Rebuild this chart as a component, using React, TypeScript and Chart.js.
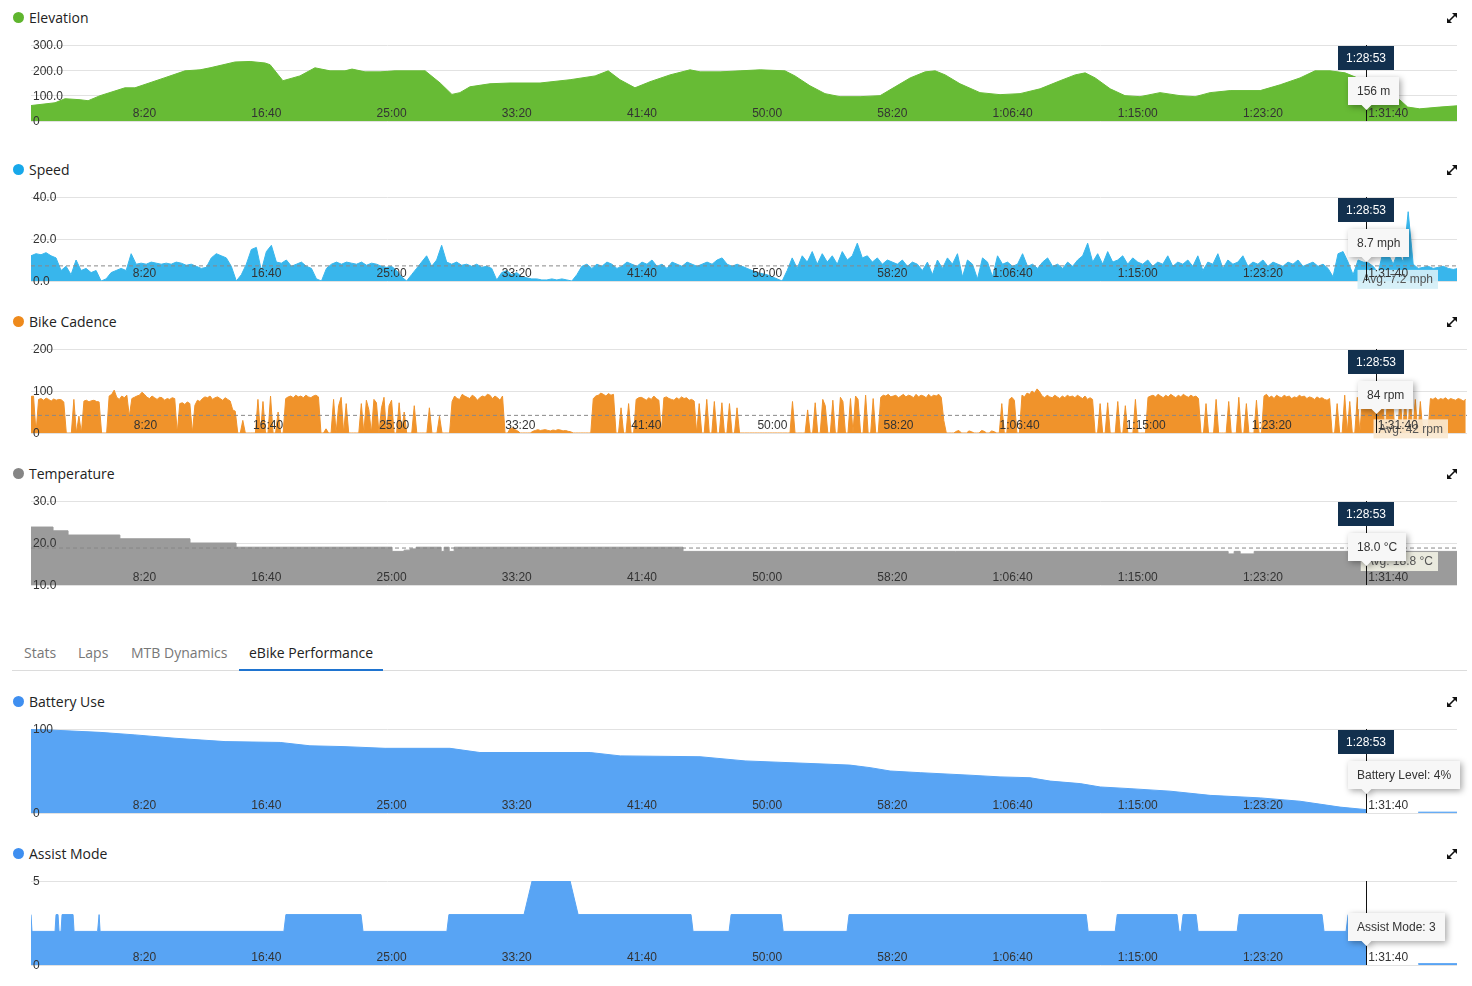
import React, { useEffect, useRef } from "react";
import { Chart, registerables } from "chart.js";

Chart.register(...registerables);

const TICK_FONT = '"Liberation Sans", Arial, Helvetica, sans-serif';
const UI_FONT = '"Open Sans", "Noto Sans", sans-serif';

// ---------- shared x axis (seconds) ----------
const T_MAX = 5695;
const CURSOR_T = 5333;
const CURSOR_LABEL = "1:28:53";
const X_TICKS = [500, 1000, 1500, 2000, 2500, 3000, 3500, 4000, 4500, 5000, 5500];
const X_TICK_LABELS = ["8:20", "16:40", "25:00", "33:20", "41:40", "50:00", "58:20", "1:06:40", "1:15:00", "1:23:20", "1:31:40"];

// ---------- Elevation (t seconds, metres) ----------
const elevationPoints: [number, number][] = [
  [0, 61], [96, 72], [136, 88], [196, 84], [228, 80], [276, 100], [375, 131], [415, 131], [535, 171], [615, 198],
  [675, 202], [715, 210], [763, 221], [815, 233], [875, 235], [935, 229], [955, 222], [1006, 159], [1074, 178], [1134, 210],
  [1154, 206], [1194, 198], [1254, 198], [1282, 205], [1334, 194], [1394, 194], [1454, 198], [1574, 198], [1634, 150], [1681, 105],
  [1713, 112], [1753, 135], [1833, 147], [1913, 150], [2033, 150], [2153, 163], [2253, 178], [2305, 198], [2352, 163], [2412, 131],
  [2472, 155], [2552, 182], [2632, 202], [2672, 194], [2752, 194], [2832, 198], [2912, 202], [3011, 198], [3051, 178], [3111, 139],
  [3171, 108], [3231, 96], [3311, 96], [3391, 100], [3451, 135], [3511, 170], [3571, 194], [3611, 198], [3651, 182], [3710, 147],
  [3790, 112], [3870, 104], [3950, 108], [4030, 127], [4110, 159], [4170, 182], [4210, 190], [4250, 170], [4310, 127], [4369, 100],
  [4429, 96], [4509, 112], [4589, 100], [4649, 96], [4709, 112], [4789, 120], [4909, 120], [4989, 143], [5068, 170], [5128, 198],
  [5188, 198], [5248, 190], [5333, 156], [5406, 120], [5466, 84], [5498, 55], [5546, 48], [5626, 55], [5695, 60],
];
const ELEV_Y_TICKS = [0, 100, 200, 300];
const ELEV_Y_LABELS = ["0", "100.0", "200.0", "300.0"];

// ---------- Speed (mph, one value every 20 s) ----------
const SPEED_STEP = 20;
const speedValues = [
  12, 13, 12.5, 13.5, 12, 11, 5, 7, 3, 10,
  5, 6, 4, 5, 0, 1, 4, 5, 6, 5,
  13, 8, 8.5, 8, 9, 8.5, 8, 8.5, 8, 9,
  8.5, 7.5, 8, 7, 6, 6.5, 11, 13, 12, 11,
  7, 0, 3, 8, 15, 16, 5, 14, 17, 9,
  8.5, 10, 7, 8, 9, 7, 6, 1, 0, 6,
  8, 9, 8, 9, 8.5, 8, 9, 7.5, 8.5, 8,
  7, 6.5, 7, 5, 2, 0, 3, 6, 9, 12,
  7, 10, 17, 9, 8, 9, 7.5, 8, 7, 8,
  6.5, 7, 6, 0.5, 4, 5, 3, 4, 2, 1.5,
  1, 1, 0.5, 0.5, 1, 0.5, 1, 0.5, 0, 3,
  7, 8, 6, 8, 7, 9, 8, 6, 7, 9,
  8, 7, 9, 8, 10, 7, 8, 6, 9, 8,
  7, 9, 8, 7, 8, 9, 8, 10, 11, 8,
  7, 8, 7, 6, 5, 4, 3.5, 3, 2, 1,
  0, 5, 11, 6, 12, 9, 14, 8, 13, 9,
  12, 8, 14, 10, 12, 18, 11, 12, 9, 11,
  8, 10, 9, 8, 10, 7, 9, 8, 5, 9,
  3, 10, 6, 11, 8, 13, 2, 10, 8, 1,
  11, 9, 2, 12, 8, 9, 7, 8, 13, 7,
  8, 6, 9, 11, 7, 8, 6, 9, 7, 10,
  12, 18, 9, 13, 8, 14, 9, 10, 12, 8,
  11, 9, 8, 10, 7, 9, 8, 12, 7, 9,
  8, 10, 7, 12, 5, 9, 8, 13, 6, 10,
  8, 9, 12, 7, 9, 8, 10, 7, 9, 8,
  7, 9, 8, 10, 7, 8, 9, 7, 8, 6,
  2, 13, 14, 9, 3, 10, 9, 8.7, 7, 4,
  14, 13, 8, 14, 9, 33, 8, 6, 6.5, 7,
  6, 6.5, 7, 6, 5.5, 6,
];
const SPEED_AVG = 7.2;
const SPEED_Y_TICKS = [0, 20, 40];
const SPEED_Y_LABELS = ["0.0", "20.0", "40.0"];

// ---------- Bike cadence (rpm, one value every 10 s) ----------
const CADENCE_STEP = 10;
const cadenceValues = [
  87, 88, 0, 80, 82, 78, 83, 80, 76, 81,
  78, 80, 79, 74, 0, 0, 0, 80, 0, 40,
  0, 76, 78, 74, 77, 78, 75, 74, 0, 0,
  0, 88, 92, 102, 85, 80, 88, 84, 90, 40,
  82, 85, 88, 90, 97, 92, 85, 82, 88, 84,
  80, 85, 84, 78, 82, 80, 84, 82, 0, 70,
  72, 68, 74, 70, 0, 66, 78, 75, 82, 86,
  84, 88, 80, 84, 86, 82, 78, 84, 80, 76,
  55, 52, 0, 0, 30, 0, 0, 0, 0, 0,
  80, 0, 75, 0, 0, 88, 0, 0, 50, 0,
  0, 82, 86, 88, 84, 90, 86, 88, 84, 90,
  86, 84, 88, 90, 86, 0, 0, 10, 0, 0,
  80, 0, 65, 85, 0, 70, 0, 0, 0, 0,
  0, 70, 0, 78, 55, 0, 80, 72, 0, 60,
  85, 0, 65, 78, 0, 0, 72, 0, 50, 0,
  0, 0, 65, 0, 0, 0, 0, 0, 60, 0,
  0, 0, 40, 0, 0, 0, 0, 75, 88, 82,
  80, 92, 88, 85, 82, 90, 86, 78, 84, 88,
  86, 92, 90, 82, 88, 84, 78, 88, 0, 0,
  10, 12, 8, 5, 0, 0, 0, 0, 0, 4,
  6, 8, 6, 7, 8, 6, 5, 7, 6, 8,
  7, 5, 6, 4, 3, 0, 0, 0, 0, 0,
  0, 0, 0, 82, 88, 90, 95, 92, 88, 94,
  90, 92, 0, 0, 60, 0, 0, 70, 0, 0,
  80, 84, 85, 82, 78, 84, 80, 88, 82, 78,
  0, 84, 86, 82, 80, 78, 84, 80, 86, 82,
  84, 78, 80, 76, 0, 70, 0, 0, 80, 0,
  0, 75, 0, 0, 72, 0, 0, 70, 0, 0,
  60, 0, 0, 0, 0, 0, 0, 0, 0, 0,
  0, 0, 0, 0, 0, 0, 0, 0, 0, 0,
  0, 0, 75, 0, 0, 0, 0, 0, 55, 0,
  0, 72, 0, 0, 80, 65, 0, 0, 78, 0,
  0, 85, 75, 0, 0, 82, 0, 88, 80, 0,
  0, 90, 0, 0, 82, 0, 0, 85, 90, 88,
  92, 86, 88, 90, 84, 88, 92, 86, 90, 88,
  84, 92, 86, 90, 88, 84, 92, 86, 90, 88,
  92, 85, 30, 0, 0, 0, 0, 4, 6, 0,
  0, 0, 5, 3, 0, 0, 0, 6, 4, 0,
  0, 5, 3, 0, 0, 70, 0, 0, 80, 85,
  78, 0, 0, 90, 86, 95, 92, 100, 95, 105,
  98, 88, 84, 90, 86, 84, 90, 86, 82, 88,
  84, 90, 86, 88, 84, 90, 86, 82, 88, 80,
  84, 80, 0, 0, 70, 0, 0, 72, 0, 0,
  0, 75, 0, 0, 65, 0, 0, 0, 80, 0,
  0, 0, 0, 85, 88, 90, 86, 92, 88, 84,
  90, 86, 92, 88, 84, 90, 86, 92, 88, 85,
  90, 86, 88, 82, 0, 0, 70, 0, 0, 0,
  80, 0, 0, 0, 0, 75, 0, 0, 0, 85,
  0, 0, 70, 0, 0, 0, 78, 0, 0, 88,
  92, 84, 88, 82, 90, 86, 84, 90, 86, 88,
  82, 86, 84, 90, 86, 88, 82, 86, 84, 80,
  86, 82, 84, 80, 78, 82, 0, 0, 70, 0,
  0, 90, 0, 75, 0, 0, 85, 0, 80, 85,
  82, 84, 84, 90, 85, 88, 82, 0, 80, 84,
  78, 0, 0, 90, 0, 85, 0, 88, 0, 80,
  0, 75, 0, 0, 0, 82, 80, 84, 78, 82,
  80, 84, 78, 82, 80, 78, 82, 80, 76, 80,
];
const CADENCE_AVG = 42;
const CADENCE_Y_TICKS = [0, 100, 200];
const CADENCE_Y_LABELS = ["0", "100", "200"];

// ---------- Temperature (°C, value holds from t until next t) ----------
const temperaturePoints: [number, number][] = [
  [0, 23.8], [88, 22.9], [148, 21.9], [355, 21.0], [635, 20.0], [819, 19.0], [1442, 18.0], [1490, 18.3], [1514, 18.6], [1538, 19.0],
  [1638, 18.0], [1650, 19.0], [1670, 18.0], [1690, 19.0], [2604, 18.0], [4781, 17.4], [4805, 18.0], [4829, 17.4], [4885, 18.0], [5695, 18.0],
];
const TEMP_AVG = 18.8;
const TEMP_Y_TICKS = [10, 20, 30];
const TEMP_Y_LABELS = ["10.0", "20.0", "30.0"];

// ---------- Battery level (%) ----------
const batteryPoints: [number, number | null][] = [
  [0, 100], [96, 98.5], [276, 96], [415, 93], [575, 89], [775, 85], [995, 84], [1114, 80], [1254, 79], [1414, 77],
  [1673, 77], [1793, 72], [2233, 72], [2353, 68], [2672, 67], [2852, 62], [3191, 58], [3271, 57], [3351, 54], [3431, 50],
  [3551, 48], [3750, 45], [3870, 43], [3990, 42], [4070, 38], [4190, 35], [4270, 31], [4389, 29], [4549, 26], [4709, 21],
  [4909, 18], [5068, 14], [5228, 7], [5333, 4], [5345, null], [5540, 1], [5695, 1],
];
const BATTERY_Y_TICKS = [0, 100];
const BATTERY_Y_LABELS = ["0", "100"];

// ---------- Assist mode ----------
const assistPoints: [number, number | null][] = [
  [0, 3], [4, 2], [96, 2], [100, 3], [108, 3], [112, 2], [120, 2], [124, 3], [168, 3], [172, 2],
  [266, 2], [272, 3], [276, 2], [1010, 2], [1018, 3], [1318, 3], [1326, 2], [1661, 2], [1669, 3], [1969, 3],
  [2001, 5], [2153, 5], [2185, 3], [2636, 3], [2644, 2], [2788, 2], [2796, 3], [2996, 3], [3004, 2], [3259, 2],
  [3267, 3], [4214, 3], [4222, 2], [4330, 2], [4338, 3], [4577, 3], [4585, 2], [4593, 2], [4601, 3], [4653, 3],
  [4661, 2], [4817, 2], [4825, 3], [5156, 3], [5164, 2], [5252, 2], [5260, 3], [5333, 3], [5345, null], [5540, 0.08], [5695, 0.08],
];
const ASSIST_Y_TICKS = [0, 5];
const ASSIST_Y_LABELS = ["0", "5"];

const TABS = ["Stats", "Laps", "MTB Dynamics", "eBike Performance"];
const ACTIVE_TAB = "eBike Performance";

// ---------- panel configuration ----------
type Pt = { x: number; y: number | null };
const fromPairs = (arr: [number, number | null][]): Pt[] => arr.map(([x, y]) => ({ x, y }));
const fromSamples = (vals: number[], step: number): Pt[] => vals.map((y, i) => ({ x: i * step, y }));

interface PanelSpec {
  key: string;
  title: string;
  dot: string;
  fill: string;
  titleY: number;
  top: number;
  height: number;
  right: number;
  yMin: number;
  yMax: number;
  yTicks: number[];
  yLabels: string[];
  points: Pt[];
  stepped: boolean;
  avg?: number;
  avgText?: string;
  avgBg?: string;
  value: string;
  showTime: boolean;
}

const PANELS: PanelSpec[] = [
  { key: "elev", title: "Elevation", dot: "#5fb52e", fill: "#67bb35", titleY: 18, top: 45, height: 76, right: 1457, yMin: 0, yMax: 300, yTicks: ELEV_Y_TICKS, yLabels: ELEV_Y_LABELS, points: fromPairs(elevationPoints), stepped: false, value: "156 m", showTime: true },
  { key: "speed", title: "Speed", dot: "#17a8ea", fill: "#38b6ec", titleY: 170, top: 197, height: 84, right: 1457, yMin: 0, yMax: 40, yTicks: SPEED_Y_TICKS, yLabels: SPEED_Y_LABELS, points: fromSamples(speedValues, SPEED_STEP), stepped: false, avg: SPEED_AVG, avgText: "Avg: 7.2 mph", avgBg: "rgba(212,239,247,0.92)", value: "8.7 mph", showTime: true },
  { key: "cad", title: "Bike Cadence", dot: "#ee8a1c", fill: "#f0932b", titleY: 322, top: 349, height: 84, right: 1467, yMin: 0, yMax: 200, yTicks: CADENCE_Y_TICKS, yLabels: CADENCE_Y_LABELS, points: fromSamples(cadenceValues, CADENCE_STEP), stepped: false, avg: CADENCE_AVG, avgText: "Avg: 42 rpm", avgBg: "rgba(250,232,208,0.92)", value: "84 rpm", showTime: true },
  { key: "temp", title: "Temperature", dot: "#858585", fill: "#9b9b9b", titleY: 474, top: 501, height: 84, right: 1457, yMin: 10, yMax: 30, yTicks: TEMP_Y_TICKS, yLabels: TEMP_Y_LABELS, points: fromPairs(temperaturePoints), stepped: true, avg: TEMP_AVG, avgText: "Avg: 18.8 °C", avgBg: "rgba(238,238,226,0.95)", value: "18.0 °C", showTime: true },
  { key: "batt", title: "Battery Use", dot: "#3f8ff0", fill: "#58a4f4", titleY: 702, top: 729, height: 84, right: 1457, yMin: 0, yMax: 100, yTicks: BATTERY_Y_TICKS, yLabels: BATTERY_Y_LABELS, points: fromPairs(batteryPoints), stepped: false, value: "Battery Level: 4%", showTime: true },
  { key: "assist", title: "Assist Mode", dot: "#3f8ff0", fill: "#58a4f4", titleY: 854, top: 881, height: 84, right: 1457, yMin: 0, yMax: 5, yTicks: ASSIST_Y_TICKS, yLabels: ASSIST_Y_LABELS, points: fromPairs(assistPoints), stepped: false, value: "Assist Mode: 3", showTime: false },
];

const PAD = 12;
const PAGE_W = 1472;
const CHART_LEFT = 31;
const Y_AXIS_SHIFT = 4; // width that the mirrored y axis still takes

function overlayPlugin(spec: PanelSpec) {
  return {
    id: "overlay_" + spec.key,
    afterDatasetsDraw(chart: any) {
      if (spec.avg == null || !spec.avgText) return;
      const { ctx, chartArea } = chart;
      const y = chart.scales.y.getPixelForValue(spec.avg);
      ctx.save();
      ctx.font = "12px " + TICK_FONT;
      const tw = ctx.measureText(spec.avgText).width;
      const w = tw + 10;
      const h = 19;
      const right = chartArea.right - 19;
      const top = y + 4;
      ctx.fillStyle = spec.avgBg || "#eee";
      ctx.fillRect(right - w, top, w, h);
      ctx.fillStyle = "#555";
      ctx.textBaseline = "middle";
      ctx.textAlign = "left";
      ctx.fillText(spec.avgText, right - w + 5, top + h / 2 + 0.5);
      ctx.restore();
    },
    afterDraw(chart: any) {
      const { ctx, chartArea } = chart;
      const x = Math.round(chart.scales.x.getPixelForValue(CURSOR_T)) + 0.5;
      ctx.save();
      ctx.strokeStyle = "#111";
      ctx.lineWidth = 1;
      ctx.beginPath();
      ctx.moveTo(x, chartArea.top);
      ctx.lineTo(x, chartArea.bottom);
      ctx.stroke();
      ctx.font = "12px " + TICK_FONT;
      ctx.textBaseline = "middle";
      if (spec.showTime) {
        const bw = 56;
        const bh = 24;
        const bx = x - 28.5;
        const by = chartArea.top + 1;
        ctx.fillStyle = "#12304e";
        ctx.fillRect(bx, by, bw, bh);
        ctx.fillStyle = "#ffffff";
        ctx.textAlign = "center";
        ctx.fillText(CURSOR_LABEL, bx + bw / 2, by + bh / 2 + 0.5);
      }
      const tw = ctx.measureText(spec.value).width;
      const vw = Math.round(tw + 18);
      const vh = 28;
      const vx = x - 18.5;
      const vy = chartArea.top + 32;
      ctx.save();
      ctx.shadowColor = "rgba(0,0,0,0.35)";
      ctx.shadowBlur = 6;
      ctx.shadowOffsetX = 2;
      ctx.shadowOffsetY = 2;
      ctx.fillStyle = "#f7f7f7";
      ctx.beginPath();
      ctx.moveTo(vx, vy);
      ctx.lineTo(vx + vw, vy);
      ctx.lineTo(vx + vw, vy + vh);
      ctx.lineTo(x + 5, vy + vh);
      ctx.lineTo(x, vy + vh + 5);
      ctx.lineTo(x - 5, vy + vh);
      ctx.lineTo(vx, vy + vh);
      ctx.closePath();
      ctx.fill();
      ctx.restore();
      ctx.fillStyle = "#333";
      ctx.textAlign = "left";
      ctx.fillText(spec.value, vx + 9, vy + vh / 2 + 0.5);
      ctx.restore();
    },
  };
}

function ExpandIcon({ top }: { top: number }) {
  return (
    <svg width={12} height={12} viewBox="0 0 12 12" style={{ position: "absolute", left: 1446, top: top - 6 }}>
      <line x1={2.5} y1={9.5} x2={9.5} y2={2.5} stroke="#111" strokeWidth={1.6} />
      <polygon points="11,1 6,1 11,6" fill="#111" />
      <polygon points="1,11 6,11 1,6" fill="#111" />
    </svg>
  );
}

function Panel({ spec }: { spec: PanelSpec }) {
  const ref = useRef<HTMLCanvasElement | null>(null);
  const canvasTop = spec.top - PAD;
  const canvasH = spec.height + PAD * 2;

  useEffect(() => {
    const canvas = ref.current;
    if (!canvas) return;
    const datasets: any[] = [];
    if (spec.avg != null) {
      datasets.push({
        data: [{ x: 0, y: spec.avg }, { x: T_MAX, y: spec.avg }],
        borderColor: "#888",
        borderWidth: 1,
        borderDash: [4, 3],
        pointRadius: 0,
        fill: false,
      });
    }
    datasets.push({
      data: spec.points,
      borderColor: spec.fill,
      backgroundColor: spec.fill,
      borderWidth: 1,
      pointRadius: 0,
      fill: "start",
      tension: 0,
      stepped: spec.stepped ? "before" : false,
      spanGaps: false,
    });
    const chart = new Chart(canvas, {
      type: "line",
      data: { datasets },
      options: {
        animation: false,
        responsive: false,
        events: [],
        layout: { padding: { left: CHART_LEFT - Y_AXIS_SHIFT, right: PAGE_W - spec.right, top: PAD, bottom: PAD } },
        plugins: { legend: { display: false }, tooltip: { enabled: false } },
        scales: {
          x: {
            type: "linear",
            min: 0,
            max: T_MAX,
            grid: { display: false, drawTicks: false },
            border: { display: false },
            afterBuildTicks: (s: any) => {
              s.ticks = X_TICKS.map((v) => ({ value: v }));
            },
            ticks: {
              autoSkip: false,
              maxRotation: 0,
              minRotation: 0,
              align: "end",
              padding: -14,
              z: 1,
              color: "#333",
              font: { family: TICK_FONT, size: 12, lineHeight: 14 / 12 },
              callback: (_v: any, i: number) => X_TICK_LABELS[i],
            },
          },
          y: {
            type: "linear",
            min: spec.yMin,
            max: spec.yMax,
            grid: { color: "#e2e2e2", drawTicks: false, lineWidth: 1 },
            border: { display: false },
            afterBuildTicks: (s: any) => {
              s.ticks = spec.yTicks.map((v) => ({ value: v }));
            },
            ticks: {
              mirror: true,
              padding: 2,
              z: 1,
              labelOffset: 1,
              color: "#333",
              font: { family: TICK_FONT, size: 12 },
              callback: (_v: any, i: number) => spec.yLabels[i],
            },
          },
        },
      },
      plugins: [overlayPlugin(spec)],
    } as any);
    return () => chart.destroy();
  }, [spec]);

  return (
    <>
      <div
        style={{
          position: "absolute",
          left: 12,
          top: spec.titleY - 11,
          height: 20,
          display: "flex",
          alignItems: "center",
          fontFamily: UI_FONT,
          fontSize: 14,
          color: "#222",
          whiteSpace: "nowrap",
        }}
      >
        <span style={{ display: "inline-block", width: 11, height: 11, borderRadius: "50%", background: spec.dot, marginLeft: 1, marginRight: 5 }} />
        <span>{spec.title}</span>
      </div>
      <ExpandIcon top={spec.titleY} />
      <canvas
        ref={ref}
        width={PAGE_W}
        height={canvasH}
        style={{ position: "absolute", left: 0, top: canvasTop, width: PAGE_W, height: canvasH }}
      />
    </>
  );
}

function Tabs() {
  const lefts = [24, 78, 131, 249];
  return (
    <>
      <div style={{ position: "absolute", left: 12, top: 670, width: 1455, height: 1, background: "#dcdcdc" }} />
      {TABS.map((t, i) => (
        <div
          key={t}
          style={{
            position: "absolute",
            left: lefts[i],
            top: 643,
            height: 20,
            lineHeight: "20px",
            fontFamily: UI_FONT,
            fontSize: 14,
            color: t === ACTIVE_TAB ? "#222" : "#777",
            whiteSpace: "nowrap",
          }}
        >
          {t}
        </div>
      ))}
      <div style={{ position: "absolute", left: 239, top: 669, width: 144, height: 2, background: "#1f74d0" }} />
    </>
  );
}

export default function App() {
  return (
    <div style={{ position: "absolute", left: 0, top: 0, width: PAGE_W, height: 986, background: "#fff", overflow: "hidden" }}>
      {PANELS.map((p) => (
        <Panel key={p.key} spec={p} />
      ))}
      <Tabs />
    </div>
  );
}
